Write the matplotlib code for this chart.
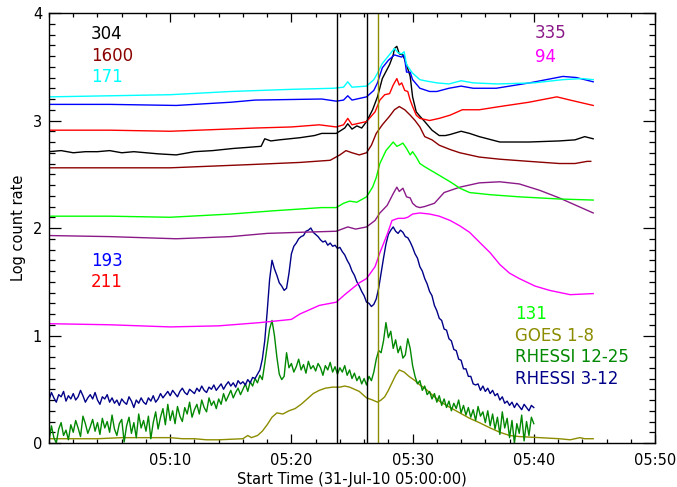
import numpy as np
import matplotlib
matplotlib.use("Agg")
import matplotlib.pyplot as plt
from matplotlib.ticker import MultipleLocator, FixedLocator

# ---- AIA light curves (minutes after 05:00, log count rate) ----
t_171 = [0, 5, 10, 15, 20, 23.5, 24.3, 24.65, 25.0, 26.2, 26.8, 27.1, 27.5, 28.0, 28.5, 28.8,
         29.1, 29.3, 29.5, 30.0, 30.6, 31.0, 32.0, 33.0, 34.0, 35.0, 37.0, 40.0, 42.4, 44.0, 44.9]
v_171 = [3.22, 3.23, 3.24, 3.27, 3.29, 3.30, 3.31, 3.36, 3.31, 3.32, 3.38, 3.44, 3.53, 3.60, 3.67, 3.63,
         3.62, 3.64, 3.52, 3.44, 3.38, 3.37, 3.35, 3.34, 3.37, 3.35, 3.34, 3.35, 3.38, 3.39, 3.38]

t_193 = [0, 5, 10.5, 15, 17, 22.5, 23.7, 24.3, 24.65, 25.0, 26.2, 26.8, 27.1, 27.5, 28.0, 28.5,
         29.1, 29.3, 29.5, 29.8, 30.0, 30.6, 31.4, 32.0, 33.0, 34.0, 35.0, 36.9, 39.65, 42.4, 43.5, 44.9]
v_193 = [3.15, 3.15, 3.14, 3.17, 3.19, 3.20, 3.18, 3.19, 3.23, 3.19, 3.22, 3.28, 3.35, 3.49, 3.56, 3.61,
         3.59, 3.61, 3.45, 3.45, 3.38, 3.30, 3.27, 3.27, 3.30, 3.32, 3.30, 3.30, 3.35, 3.41, 3.40, 3.36]

t_211 = [0, 5, 10, 17, 20, 22.3, 23.7, 24.3, 24.65, 25.0, 26.2, 26.9, 27.3, 27.7, 28.1, 28.4, 28.7,
         28.9, 29.1, 29.35, 29.6, 29.8, 30.0, 30.3, 30.6, 31.4, 32.2, 33.1, 34.1, 35.5, 37.2, 39.6,
         41.9, 43.0, 44.9]
v_211 = [2.91, 2.91, 2.90, 2.93, 2.94, 2.96, 2.94, 2.96, 3.02, 2.96, 2.99, 3.08, 3.19, 3.24, 3.25, 3.33, 3.39,
         3.33, 3.35, 3.28, 3.27, 3.19, 3.13, 3.05, 3.02, 3.00, 3.02, 3.05, 3.10, 3.10, 3.13, 3.17,
         3.22, 3.19, 3.14]

t_304 = [0, 1, 2, 3, 4, 5, 6, 7, 8, 9, 10.5, 12, 13.5, 15.2, 16.4, 17.5, 17.8, 18.3, 19, 20.7, 21.9,
         22.5, 23.7, 24.4, 24.65, 25.0, 25.4, 25.8, 26.2, 26.7, 27.1, 27.5, 28.1, 28.4, 28.5, 28.7,
         28.9, 29.2, 29.5, 29.8, 30.0, 30.3, 30.6, 31.0, 31.6, 32.2, 32.7, 33.1, 34.0, 34.7, 35.5,
         37.2, 39.6, 42.1, 43.4, 44.2, 44.9]
v_304 = [2.71, 2.72, 2.70, 2.71, 2.71, 2.72, 2.70, 2.71, 2.70, 2.69, 2.68, 2.71, 2.72, 2.74, 2.75, 2.76,
         2.83, 2.81, 2.82, 2.84, 2.86, 2.88, 2.88, 2.93, 2.97, 2.92, 2.95, 2.93, 2.99, 3.10, 3.22,
         3.39, 3.52, 3.61, 3.67, 3.69, 3.62, 3.61, 3.52, 3.41, 3.22, 3.08, 3.04, 2.99, 2.91, 2.86,
         2.86, 2.87, 2.90, 2.88, 2.85, 2.80, 2.80, 2.81, 2.82, 2.85, 2.83]

t_1600 = [0, 5, 10, 16.6, 20.7, 23.2, 24.0, 24.5, 25.0, 25.6, 26.2, 26.6, 27.0, 27.5, 28.1, 28.5,
          28.9, 29.35, 29.8, 30.2, 30.6, 31.0, 31.6, 32.2, 33.1, 33.9, 35.5, 37.2, 39.6, 42.1, 43.4,
          44.4, 44.7]
v_1600 = [2.56, 2.56, 2.56, 2.59, 2.61, 2.63, 2.68, 2.72, 2.70, 2.68, 2.70, 2.77, 2.88, 2.96, 3.04, 3.10,
          3.13, 3.10, 3.05, 3.00, 2.94, 2.85, 2.82, 2.77, 2.73, 2.70, 2.66, 2.64, 2.62, 2.60, 2.60,
          2.62, 2.62]

t_131 = [0, 5, 10, 15, 18.5, 22.5, 23.7, 24.3, 24.8, 25.4, 26.2, 26.7, 27.0, 27.3, 27.8, 28.4, 28.7,
         28.9, 29.2, 29.5, 29.8, 30.0, 30.3, 30.6, 31.0, 31.6, 32.2, 33.1, 33.9, 34.7, 36.4, 38.8,
         42.1, 44.9]
v_131 = [2.11, 2.11, 2.10, 2.13, 2.16, 2.19, 2.19, 2.23, 2.25, 2.24, 2.29, 2.38, 2.47, 2.60, 2.72, 2.80, 2.76,
         2.77, 2.79, 2.74, 2.68, 2.71, 2.66, 2.60, 2.57, 2.53, 2.49, 2.43, 2.37, 2.33, 2.31, 2.29,
         2.27, 2.26]

t_335 = [0, 5, 10.5, 15, 18, 20.7, 23.7, 24.65, 25.3, 26.2, 26.9, 27.3, 27.9, 28.4, 28.7, 28.9, 29.2,
         29.5, 29.8, 30.0, 30.3, 30.6, 31.0, 31.8, 32.6, 33.9, 35.5, 37.2, 38.8, 40.5, 42.1, 44.9]
v_335 = [1.93, 1.92, 1.90, 1.92, 1.95, 1.96, 1.97, 2.01, 1.99, 2.01, 2.07, 2.14, 2.21, 2.32, 2.38, 2.34, 2.37,
         2.29, 2.28, 2.23, 2.20, 2.19, 2.20, 2.23, 2.33, 2.38, 2.42, 2.43, 2.41, 2.35, 2.28, 2.14]

t_94 = [0, 5, 10, 14, 17.4, 20, 20.7, 22.3, 23.7, 24.4, 25.6, 26.2, 26.9, 27.3, 27.9, 28.3, 28.8,
        29.3, 29.6, 30.0, 30.6, 31.4, 32.2, 33.1, 33.9, 34.7, 35.5, 36.4, 37.2, 38.0, 38.8, 40.1,
        41.3, 43.0, 44.9]
v_94 = [1.11, 1.10, 1.08, 1.09, 1.12, 1.15, 1.20, 1.28, 1.31, 1.38, 1.49, 1.53, 1.64, 1.77, 1.94, 2.07, 2.09,
        2.09, 2.10, 2.13, 2.14, 2.13, 2.11, 2.07, 2.02, 1.96, 1.87, 1.77, 1.66, 1.58, 1.53, 1.46,
        1.42, 1.38, 1.39]

# ---- GOES 1-8 A ----
t_goes = [0, 2, 4, 6, 8, 10, 11, 12, 13, 14, 15, 16, 16.4, 16.7, 17.2, 17.6, 18.0, 18.4, 18.8, 19.3,
          19.8, 20.3, 20.8, 21.3, 21.8, 22.3, 22.8, 23.4, 24.0, 24.4, 24.8, 25.2, 25.6, 26.0, 26.2,
          26.7, 27.1, 27.4, 27.7, 28.0, 28.3, 28.6, 28.9, 29.3, 29.7, 30.2, 30.6, 31.0, 31.5, 32.2,
          33.1, 33.9, 34.7, 35.5, 36.4, 37.2, 38.0, 38.8, 40.5, 42.1, 43.0, 43.8, 44.2, 44.9]
v_goes = [0.04, 0.04, 0.04, 0.05, 0.05, 0.05, 0.04, 0.04, 0.03, 0.03, 0.035, 0.04, 0.07, 0.05, 0.07, 0.11, 0.17, 0.24, 0.28, 0.27,
          0.30, 0.32, 0.36, 0.41, 0.46, 0.49, 0.51, 0.52, 0.52, 0.53, 0.52, 0.50, 0.48, 0.44, 0.42,
          0.40, 0.38, 0.40, 0.43, 0.49, 0.56, 0.63, 0.68, 0.66, 0.62, 0.58, 0.54, 0.51, 0.46, 0.39,
          0.33, 0.28, 0.23, 0.19, 0.14, 0.10, 0.07, 0.06, 0.05, 0.04, 0.03, 0.05, 0.04, 0.04]

# ---- RHESSI, sampled every 12 s from 05:00 to 05:40 ----
t_rhessi = [i * 0.2 for i in range(201)]
v_rhessi_3_12 = [
    0.40, 0.47, 0.42, 0.38, 0.45, 0.43, 0.48, 0.39, 0.44, 0.41,
    0.46, 0.40, 0.43, 0.49, 0.44, 0.38, 0.42, 0.45, 0.41, 0.47,
    0.40, 0.36, 0.43, 0.41, 0.45, 0.38, 0.42, 0.37, 0.40, 0.35,
    0.41, 0.38, 0.36, 0.43, 0.39, 0.33, 0.40, 0.37, 0.42, 0.38,
    0.36, 0.42, 0.39, 0.44, 0.38, 0.41, 0.46, 0.42, 0.45, 0.48,
    0.44, 0.49, 0.46, 0.43, 0.48, 0.51, 0.47, 0.45, 0.50, 0.48,
    0.46, 0.51, 0.48, 0.53, 0.49, 0.47, 0.52, 0.50, 0.54, 0.49,
    0.52, 0.55, 0.50, 0.54, 0.57, 0.53, 0.56, 0.52, 0.58, 0.55,
    0.57, 0.54, 0.59, 0.56, 0.61, 0.60, 0.64, 0.68, 0.78, 0.95,
    1.22, 1.52, 1.70, 1.62, 1.56, 1.49, 1.46, 1.42, 1.44, 1.58,
    1.76, 1.83, 1.86, 1.90, 1.92, 1.93, 1.97, 1.98, 2.00, 1.96,
    1.94, 1.92, 1.89, 1.87, 1.88, 1.84, 1.86, 1.83, 1.84, 1.81,
    1.82, 1.78, 1.75, 1.70, 1.66, 1.60, 1.56, 1.50, 1.46, 1.41,
    1.37, 1.31, 1.30, 1.27, 1.29, 1.34, 1.44, 1.58, 1.72, 1.85,
    1.94, 1.98, 2.01, 1.97, 1.95, 1.98, 1.96, 1.92, 1.91, 1.87,
    1.82, 1.76, 1.72, 1.64, 1.60, 1.53, 1.48, 1.41, 1.37, 1.28,
    1.23, 1.16, 1.14, 1.06, 1.05, 0.97, 0.95, 0.87, 0.86, 0.78,
    0.77, 0.69, 0.69, 0.62, 0.62, 0.55, 0.54, 0.55, 0.49, 0.53,
    0.48, 0.51, 0.46, 0.49, 0.44, 0.46, 0.40, 0.43, 0.37, 0.39,
    0.35, 0.38, 0.33, 0.37, 0.34, 0.31, 0.36, 0.33, 0.30, 0.35,
    0.33]
v_rhessi_12_25 = [
    0.02, 0.16, 0.05, 0.00, 0.13, 0.19, 0.07, 0.12, 0.03, 0.17,
    0.10, 0.21, 0.14, 0.06, 0.25, 0.18, 0.09, 0.15, 0.22, 0.11,
    0.19, 0.08, 0.23, 0.14, 0.20, 0.10, 0.26, 0.13, 0.07, 0.18,
    0.22, 0.01, 0.16, 0.24, 0.09, 0.19, 0.05, 0.27, 0.14, 0.21,
    0.11, 0.25, 0.04, 0.19, 0.29, 0.13, 0.24, 0.32, 0.17, 0.36,
    0.21, 0.30, 0.18, 0.34, 0.25, 0.20, 0.33, 0.27, 0.38, 0.24,
    0.31, 0.36, 0.27, 0.40, 0.33, 0.29, 0.42, 0.35, 0.39, 0.32,
    0.41, 0.36, 0.46, 0.39, 0.44, 0.49, 0.42, 0.47, 0.51, 0.45,
    0.50, 0.55, 0.48, 0.57, 0.53, 0.60, 0.56, 0.63, 0.59, 0.74,
    0.90, 1.06, 1.14, 1.00, 0.80, 0.64, 0.59, 0.62, 0.84, 0.70,
    0.74, 0.66, 0.71, 0.78, 0.68, 0.73, 0.65, 0.76, 0.69, 0.72,
    0.67, 0.74, 0.70, 0.63, 0.72, 0.68, 0.75, 0.66, 0.71, 0.64,
    0.70, 0.66, 0.72, 0.63, 0.68, 0.60, 0.65, 0.58, 0.62, 0.55,
    0.60, 0.54, 0.62, 0.58, 0.66, 0.78, 0.86, 0.84, 0.95, 1.12,
    0.98, 1.04, 0.88, 0.96, 0.84, 0.90, 0.79, 0.82, 0.97, 0.88,
    0.72, 0.62, 0.55, 0.58, 0.49, 0.53, 0.45, 0.48, 0.41, 0.46,
    0.38, 0.44, 0.35, 0.41, 0.33, 0.39, 0.30, 0.37, 0.32, 0.40,
    0.28, 0.35, 0.26, 0.33, 0.24, 0.31, 0.21, 0.34, 0.25, 0.29,
    0.19, 0.30, 0.16, 0.27, 0.13, 0.24, 0.08, 0.29, 0.14, 0.23,
    0.05, 0.21, 0.00, 0.18, 0.09, 0.26, 0.02, 0.20, 0.07, 0.24,
    0.18]

# times of the marked instants (minutes after 05:00)
black_marks = [23.76, 26.24]
goes_mark = 27.15

tick_minutes = [10, 20, 30, 40, 50]
tick_labels = ["05:10", "05:20", "05:30", "05:40", "05:50"]

C304, C1600, C171 = "black", "#8b0000", "#00ffff"
C193, C211 = "#0000ff", "#ff0000"
C335, C94, C131 = "#8b1a89", "#ff00ff", "#00ff00"
CGOES, CR1225, CR312 = "#8c8c00", "#008800", "#000088"

fig = plt.figure(figsize=(6.77, 4.87), dpi=100)
ax = fig.add_axes([0.0724, 0.0903, 0.8951, 0.8830])

lw = 1.0
ax.plot(t_goes, v_goes, color=CGOES, lw=lw)
ax.plot(t_rhessi, v_rhessi_12_25, color=CR1225, lw=lw)
ax.plot(t_rhessi, v_rhessi_3_12, color=CR312, lw=lw)
ax.plot(t_94, v_94, color=C94, lw=lw)
ax.plot(t_335, v_335, color=C335, lw=lw)
ax.plot(t_131, v_131, color=C131, lw=lw)
ax.plot(t_1600, v_1600, color=C1600, lw=lw)
ax.plot(t_304, v_304, color=C304, lw=lw)
ax.plot(t_211, v_211, color=C211, lw=lw)
ax.plot(t_193, v_193, color=C193, lw=lw)
ax.plot(t_171, v_171, color=C171, lw=lw)

for tm in black_marks:
    ax.axvline(tm, color="black", lw=1.0)
ax.axvline(goes_mark, color=CGOES, lw=1.0)

ax.set_xlim(0, 50)
ax.set_ylim(0, 4)

ax.xaxis.set_major_locator(FixedLocator(tick_minutes))
ax.set_xticklabels(tick_labels)
ax.xaxis.set_minor_locator(MultipleLocator(2))
ax.yaxis.set_major_locator(MultipleLocator(1))
ax.yaxis.set_minor_locator(MultipleLocator(0.1))
ax.tick_params(axis="both", which="both", direction="in", top=True, right=True,
               labelsize=10.5, width=0.9)
ax.tick_params(axis="x", which="major", length=6.2, pad=7)
ax.tick_params(axis="x", which="minor", length=3.1)
ax.tick_params(axis="y", which="major", length=8.7, pad=5)
ax.tick_params(axis="y", which="minor", length=4.4)
for s in ax.spines.values():
    s.set_linewidth(1.0)

ax.set_xlabel("Start Time (31-Jul-10 05:00:00)", fontsize=10.5, labelpad=3)
ax.set_ylabel("Log count rate", fontsize=10.5, labelpad=5)

fs = 12
labels = [
    ("304", C304, 0.069, 0.951), ("1600", C1600, 0.069, 0.900), ("171", C171, 0.069, 0.851),
    ("193", C193, 0.069, 0.423), ("211", C211, 0.069, 0.374),
    ("335", C335, 0.802, 0.953), ("94", C94, 0.802, 0.898),
    ("131", C131, 0.769, 0.300), ("GOES 1-8", CGOES, 0.769, 0.249),
    ("RHESSI 12-25", CR1225, 0.769, 0.200), ("RHESSI 3-12", CR312, 0.769, 0.149),
]
for txt, col, fx, fy in labels:
    ax.text(fx, fy, txt, color=col, fontsize=fs, ha="left", va="center", transform=ax.transAxes)

fig.savefig("out.png", dpi=100)
